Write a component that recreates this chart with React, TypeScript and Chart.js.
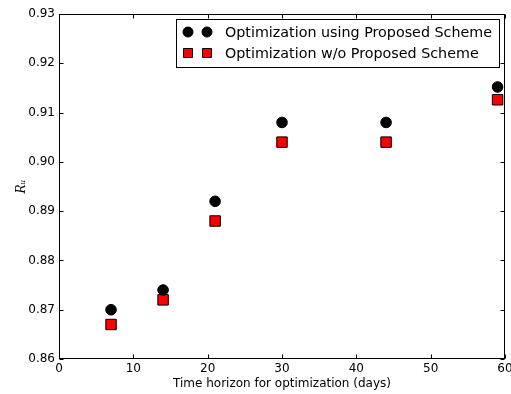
import React, { useEffect, useRef } from "react";
import { Chart, registerables } from "chart.js";

Chart.register(...registerables);

const xValues = [7, 14, 21, 30, 44, 59];
const withScheme = [0.870, 0.874, 0.892, 0.908, 0.908, 0.9152];
const withoutScheme = [0.867, 0.872, 0.888, 0.904, 0.904, 0.9126];
const seriesLabels = ["Optimization using Proposed Scheme", "Optimization w/o Proposed Scheme"];
const xTitle = "Time horizon for optimization (days)";
const yTitle = "Rᵤ";

const FONT = "'DejaVu Sans', sans-serif";

const framePlugin = {
  id: "frameAndTicks",
  afterDatasetsDraw(chart: any) {
    const { ctx, chartArea } = chart;
    const { left, right, top, bottom } = chartArea;
    const xs = chart.scales.x;
    const ys = chart.scales.y;
    ctx.save();
    ctx.strokeStyle = "#000";
    ctx.lineWidth = 1;
    const L = Math.round(left) + 0.5, R = Math.round(right) - 0.5;
    const T = Math.round(top) + 0.5, B = Math.round(bottom) - 0.5;
    ctx.strokeRect(L, T, R - L, B - T);
    const tl = 4;
    ctx.beginPath();
    xs.ticks.forEach((t: any) => {
      const px = Math.round(xs.getPixelForValue(t.value)) + 0.5;
      ctx.moveTo(px, B); ctx.lineTo(px, B - tl);
      ctx.moveTo(px, T); ctx.lineTo(px, T + tl);
    });
    ys.ticks.forEach((t: any) => {
      const py = Math.round(ys.getPixelForValue(t.value)) + 0.5;
      ctx.moveTo(L, py); ctx.lineTo(L + tl, py);
      ctx.moveTo(R, py); ctx.lineTo(R - tl, py);
    });
    ctx.stroke();

    // legend
    const bx = 176.5, by = 19.5, bw = 323, bh = 48;
    ctx.fillStyle = "#fff";
    ctx.fillRect(bx, by, bw, bh);
    ctx.strokeStyle = "#000";
    ctx.strokeRect(bx, by, bw, bh);
    const rows = [32, 53];
    chart.data.datasets.forEach((ds: any, i: number) => {
      const y = rows[i];
      [188, 207].forEach((mx) => {
        ctx.beginPath();
        if (ds.pointStyle === "circle") {
          ctx.arc(mx, y, 5, 0, Math.PI * 2);
        } else {
          ctx.rect(mx - 4.5, y - 4.5, 9, 9);
        }
        ctx.fillStyle = ds.backgroundColor;
        ctx.fill();
        ctx.strokeStyle = "#000";
        ctx.lineWidth = 1;
        ctx.stroke();
      });
      ctx.fillStyle = "#000";
      ctx.font = `14.3px ${FONT}`;
      ctx.textBaseline = "middle";
      ctx.textAlign = "left";
      ctx.fillText(ds.label, 225, y + 1);
    });
    ctx.restore();
  },
};

export default function App() {
  const ref = useRef<HTMLCanvasElement | null>(null);
  useEffect(() => {
    document.body.style.margin = "0";
    if (!ref.current) return;
    const chart = new Chart(ref.current, {
      type: "scatter",
      data: {
        datasets: [
          {
            label: seriesLabels[0],
            data: xValues.map((x, i) => ({ x, y: withScheme[i] })),
            pointStyle: "circle",
            backgroundColor: "#000",
            borderColor: "#000",
            borderWidth: 1,
            pointRadius: 5.3,
          },
          {
            label: seriesLabels[1],
            data: xValues.map((x, i) => ({ x, y: withoutScheme[i] })),
            pointStyle: "rect",
            backgroundColor: "#ff0000",
            borderColor: "#000",
            borderWidth: 1,
            pointRadius: 7.4,
          },
        ],
      },
      options: {
        responsive: false,
        devicePixelRatio: 1,
        animation: false,
        layout: { autoPadding: false, padding: { top: 14, right: 6, left: 0, bottom: 0 } },
        plugins: { legend: { display: false }, tooltip: { enabled: false } },
        scales: {
          x: {
            type: "linear",
            min: 0,
            max: 60,
            grid: { display: false, drawTicks: false },
            border: { display: false },
            ticks: { stepSize: 10, color: "#000", font: { family: FONT, size: 12 }, padding: 3, maxRotation: 0 },
            title: { display: true, text: xTitle, color: "#000", font: { family: FONT, size: 12 }, padding: { top: 0, bottom: 3 } },
            afterFit: (s: any) => { s.height = 35; s.paddingLeft = 0; s.paddingRight = 0; },
          },
          y: {
            type: "linear",
            min: 0.86,
            max: 0.93,
            grid: { display: false, drawTicks: false },
            border: { display: false },
            ticks: {
              stepSize: 0.01,
              color: "#000",
              font: { family: FONT, size: 12 },
              padding: 4,
              callback: (v: any) => Number(v).toFixed(2),
            },
            title: { display: true, text: yTitle, color: "#000", font: { family: "'DejaVu Serif', serif", size: 12, style: "italic" }, padding: { top: 15, bottom: 0 } },
            afterFit: (s: any) => { s.width = 59; s.paddingTop = 0; s.paddingBottom = 0; },
          },
        },
      },
      plugins: [framePlugin],
    });
    return () => chart.destroy();
  }, []);
  return (
    <div style={{ position: "fixed", left: 0, top: 0, width: 511, height: 394, background: "#fff" }}>
      <canvas ref={ref} width={511} height={394} />
    </div>
  );
}
